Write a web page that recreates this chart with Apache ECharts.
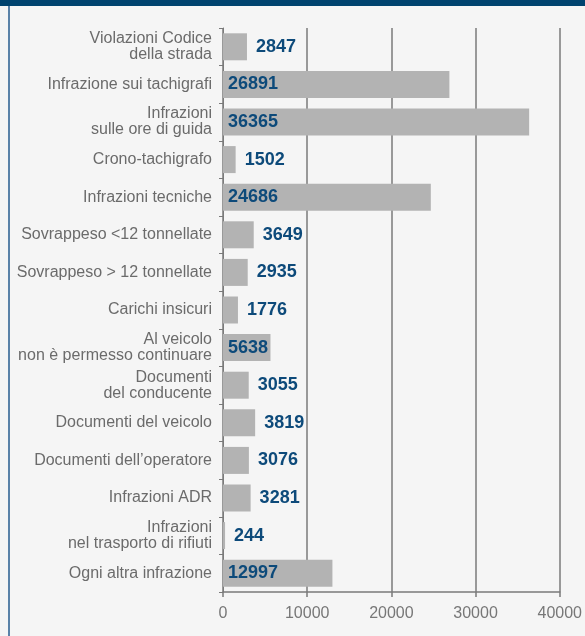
<!DOCTYPE html>
<html>
<head>
<meta charset="utf-8">
<script src="https://cdn.jsdelivr.net/npm/echarts@6/dist/echarts.min.js"></script>
<style>
html,body{margin:0;padding:0;background:#f5f5f5;}
#chart{width:585px;height:636px;}
</style>
</head>
<body>
<div id="chart"></div>
<script>
const categories = [
  "Violazioni Codice\ndella strada",
  "Infrazione sui tachigrafi",
  "Infrazioni\nsulle ore di guida",
  "Crono-tachigrafo",
  "Infrazioni tecniche",
  "Sovrappeso <12 tonnellate",
  "Sovrappeso > 12 tonnellate",
  "Carichi insicuri",
  "Al veicolo\nnon è permesso continuare",
  "Documenti\ndel conducente",
  "Documenti del veicolo",
  "Documenti dell’operatore",
  "Infrazioni ADR",
  "Infrazioni\nnel trasporto di rifiuti",
  "Ogni altra infrazione"
];
const values = [2847, 26891, 36365, 1502, 24686, 3649, 2935, 1776, 5638, 3055, 3819, 3076, 3281, 244, 12997];
const xTicks = [0, 10000, 20000, 30000, 40000];

const FONT = "'Liberation Sans', Arial, Helvetica, sans-serif";
const chart = echarts.init(document.getElementById('chart'));

const barData = values.map(v => ({
  value: v,
  label: v > 5000
    ? { position: 'insideLeft', distance: 5 }
    : { position: 'right', distance: 9 }
}));

chart.setOption({
  backgroundColor: '#f5f5f5',
  animation: false,
  textStyle: { fontFamily: FONT },
  graphic: [
    { type: 'rect', left: 0, top: 0, shape: { width: 585, height: 6 }, style: { fill: '#00436f' } },
    { type: 'rect', left: 8, top: 6, shape: { width: 2, height: 630 }, style: { fill: '#5a82a8' } }
  ],
  grid: { left: 223, right: 25, top: 28, bottom: 44, containLabel: false },
  xAxis: {
    type: 'value',
    min: xTicks[0],
    max: xTicks[xTicks.length - 1],
    interval: xTicks[1] - xTicks[0],
    axisLine: { show: true, lineStyle: { color: '#7a7a7a', width: 1.5 } },
    axisTick: { show: true, length: 5, lineStyle: { color: '#7a7a7a', width: 1.5 } },
    splitLine: { show: true, lineStyle: { color: '#7a7a7a', width: 1.5 } },
    axisLabel: { color: '#777777', fontSize: 16, margin: 14, fontFamily: FONT, formatter: v => String(v) }
  },
  yAxis: {
    type: 'category',
    data: categories,
    inverse: true,
    axisLine: { show: true, lineStyle: { color: '#7a7a7a', width: 1 } },
    axisTick: { show: true, length: 4, lineStyle: { color: '#7a7a7a', width: 1 } },
    axisLabel: { color: '#6b6b6b', fontSize: 16, lineHeight: 16, margin: 11, fontFamily: FONT }
  },
  series: [{
    type: 'bar',
    data: barData,
    barWidth: 27,
    itemStyle: { color: '#b3b3b3' },
    label: {
      show: true,
      color: '#0d4a7a',
      fontSize: 18,
      fontWeight: 'bold',
      fontFamily: FONT
    }
  }]
});
</script>
</body>
</html>
